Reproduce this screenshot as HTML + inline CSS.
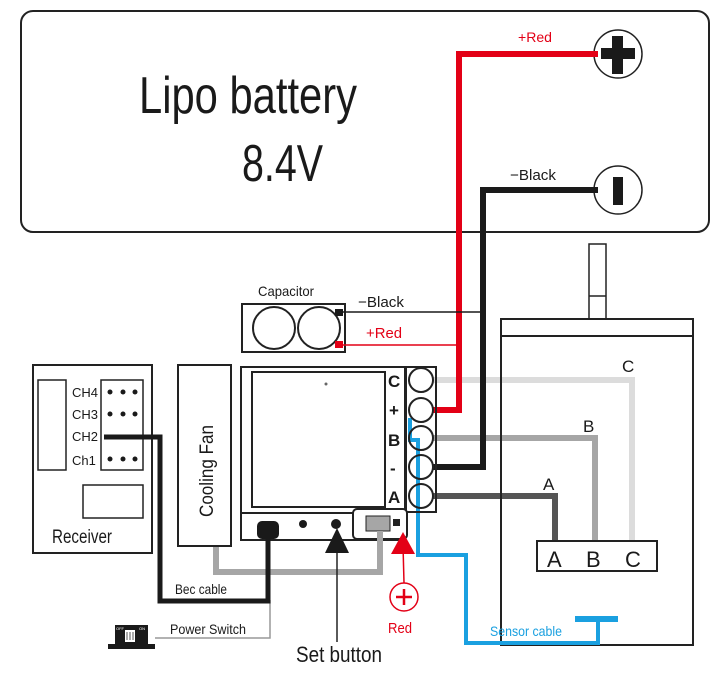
<!DOCTYPE html>
<html><head><style>body{margin:0;background:#fff}svg{display:block}text{font-family:"Liberation Sans",sans-serif}</style></head>
<body>
<svg width="725" height="673" viewBox="0 0 725 673" xmlns="http://www.w3.org/2000/svg">
<!-- battery -->
<rect x="21" y="11" width="688" height="221" rx="12" fill="none" stroke="#222" stroke-width="2"/>
<text x="139" y="113" font-size="52" textLength="218" lengthAdjust="spacingAndGlyphs" fill="#1a1a1a">Lipo battery</text>
<text x="242" y="181" font-size="52" textLength="81" lengthAdjust="spacingAndGlyphs" fill="#1a1a1a">8.4V</text>
<circle cx="618" cy="54" r="24" fill="#fff" stroke="#222" stroke-width="1.5"/>
<rect x="601" y="48" width="34" height="11" fill="#1a1a1a"/><rect x="612" y="36" width="11" height="38" fill="#1a1a1a"/>
<circle cx="618" cy="190" r="24" fill="#fff" stroke="#222" stroke-width="1.5"/>
<rect x="613" y="177" width="10" height="28" fill="#1a1a1a"/>
<text x="518" y="42" font-size="14" fill="#e30016" textLength="34" lengthAdjust="spacingAndGlyphs">+Red</text>
<text x="510" y="180" font-size="15" fill="#1a1a1a" textLength="46" lengthAdjust="spacingAndGlyphs">−Black</text>
<!-- gray motor wires -->
<polyline points="432,380 632,380 632,541" fill="none" stroke="#dcdcdc" stroke-width="6"/>
<polyline points="432,438 595,438 595,541" fill="none" stroke="#a6a6a6" stroke-width="6"/>
<polyline points="432,496 555,496 555,541" fill="none" stroke="#555" stroke-width="6"/>
<!-- motor -->
<rect x="589" y="244" width="17" height="75" fill="#fff" stroke="#222" stroke-width="1.5"/>
<line x1="589" y1="296" x2="606" y2="296" stroke="#222" stroke-width="1.5"/>
<rect x="501" y="319" width="192" height="326" fill="none" stroke="#222" stroke-width="2"/>
<line x1="501" y1="336" x2="693" y2="336" stroke="#222" stroke-width="2"/>
<rect x="537" y="541" width="120" height="30" fill="#fff" stroke="#222" stroke-width="2"/>
<text x="547" y="567" font-size="22" fill="#1a1a1a">A</text>
<text x="586" y="567" font-size="22" fill="#1a1a1a">B</text>
<text x="625" y="567" font-size="22" fill="#1a1a1a">C</text>
<text x="622" y="372" font-size="17" fill="#1a1a1a">C</text>
<text x="583" y="432" font-size="17" fill="#1a1a1a">B</text>
<text x="543" y="490" font-size="17" fill="#1a1a1a">A</text>
<!-- battery wires -->
<polyline points="598,54 459,54 459,410 432,410" fill="none" stroke="#e30016" stroke-width="6"/>
<polyline points="598,190 483,190 483,467 432,467" fill="none" stroke="#1a1a1a" stroke-width="6"/>
<!-- capacitor -->
<rect x="242" y="304" width="103" height="48" fill="#fff" stroke="#222" stroke-width="2"/>
<circle cx="274" cy="328" r="21" fill="none" stroke="#222" stroke-width="2"/>
<circle cx="319" cy="328" r="21" fill="none" stroke="#222" stroke-width="2"/>
<rect x="335" y="309" width="8" height="7" fill="#1a1a1a"/>
<rect x="335" y="341" width="8" height="7" fill="#e30016"/>
<line x1="343" y1="312" x2="483" y2="312" stroke="#1a1a1a" stroke-width="1.5"/>
<line x1="343" y1="345" x2="459" y2="345" stroke="#e30016" stroke-width="1.5"/>
<text x="258" y="296" font-size="14" fill="#1a1a1a" textLength="56" lengthAdjust="spacingAndGlyphs">Capacitor</text>
<text x="358" y="307" font-size="15" fill="#1a1a1a" textLength="46" lengthAdjust="spacingAndGlyphs">−Black</text>
<text x="366" y="338" font-size="15" fill="#e30016" textLength="36" lengthAdjust="spacingAndGlyphs">+Red</text>
<!-- blue sensor -->
<polyline points="410,418 410,440 418,440 418,555 466,555 466,643 598,643 598,620" fill="none" stroke="#1aa0e0" stroke-width="4"/>
<rect x="575" y="616" width="43" height="6" fill="#1aa0e0"/>
<text x="490" y="636" font-size="14" fill="#1aa0e0" textLength="72" lengthAdjust="spacingAndGlyphs">Sensor cable</text>
<!-- controller -->
<rect x="241" y="367" width="164" height="173" fill="none" stroke="#222" stroke-width="2"/>
<rect x="252" y="372" width="133" height="135" fill="none" stroke="#222" stroke-width="2"/>
<line x1="241" y1="513" x2="405" y2="513" stroke="#222" stroke-width="2"/>
<circle cx="326" cy="384" r="1.5" fill="#666"/>
<g font-size="17" font-weight="bold" fill="#1a1a1a">
<text x="388" y="387">C</text><text x="389" y="416">+</text><text x="388" y="446">B</text><text x="390" y="474">-</text><text x="388" y="503">A</text></g>
<rect x="406" y="367" width="30" height="145" fill="none" stroke="#222" stroke-width="2"/>
<g fill="none" stroke="#222" stroke-width="2">
<circle cx="421" cy="380" r="12"/><circle cx="421" cy="410" r="12"/><circle cx="421" cy="438" r="12"/><circle cx="421" cy="467" r="12"/><circle cx="421" cy="496" r="12"/></g>
<rect x="353" y="509" width="54" height="30" rx="4" fill="#fff" stroke="#222" stroke-width="2"/>
<rect x="366" y="516" width="24" height="15" fill="#a6a6a6" stroke="#222" stroke-width="1"/>
<rect x="393" y="519" width="7" height="7" fill="#222"/>
<circle cx="303" cy="524" r="4" fill="#1a1a1a"/><circle cx="336" cy="524" r="5" fill="#1a1a1a"/>
<rect x="257" y="521" width="22" height="18" rx="5" fill="#1a1a1a"/>
<!-- fan & gray cable -->
<polyline points="216,546 216,572 380,572 380,531" fill="none" stroke="#a6a6a6" stroke-width="6"/>
<rect x="178" y="365" width="53" height="181" fill="#fff" stroke="#222" stroke-width="2"/>
<text transform="translate(213,517) rotate(-90)" font-size="19" fill="#1a1a1a" textLength="92" lengthAdjust="spacingAndGlyphs">Cooling Fan</text>
<!-- set button -->
<line x1="337" y1="545" x2="337" y2="642" stroke="#222" stroke-width="1.5"/>
<polygon points="337,528 325,553 349,553" fill="#1a1a1a"/>
<text x="296" y="662" font-size="22" fill="#1a1a1a" textLength="86" lengthAdjust="spacingAndGlyphs">Set button</text>
<!-- red power -->
<line x1="403" y1="545" x2="404" y2="583" stroke="#e30016" stroke-width="1.5"/>
<polygon points="403,532 391,554 415,554" fill="#e30016"/>
<circle cx="404" cy="597" r="14" fill="none" stroke="#e30016" stroke-width="1.5"/>
<path d="M396 597h16M404 589v16" stroke="#e30016" stroke-width="2.5"/>
<text x="388" y="633" font-size="15" fill="#e30016" textLength="24" lengthAdjust="spacingAndGlyphs">Red</text>
<!-- receiver -->
<rect x="33" y="365" width="119" height="188" fill="none" stroke="#222" stroke-width="2"/>
<rect x="38" y="380" width="28" height="90" fill="none" stroke="#222" stroke-width="1.5"/>
<rect x="101" y="380" width="42" height="90" fill="none" stroke="#222" stroke-width="1.5"/>
<rect x="83" y="485" width="60" height="33" fill="none" stroke="#222" stroke-width="1.5"/>
<g font-size="13" fill="#1a1a1a"><text x="72" y="397">CH4</text><text x="72" y="419">CH3</text><text x="72" y="441">CH2</text><text x="72" y="465">Ch1</text></g>
<g fill="#1a1a1a"><circle cx="110" cy="392" r="2.5"/><circle cx="123" cy="392" r="2.5"/><circle cx="135" cy="392" r="2.5"/>
<circle cx="110" cy="414" r="2.5"/><circle cx="123" cy="414" r="2.5"/><circle cx="135" cy="414" r="2.5"/>
<circle cx="110" cy="459" r="2.5"/><circle cx="123" cy="459" r="2.5"/><circle cx="135" cy="459" r="2.5"/></g>
<text x="52" y="543" font-size="19" fill="#1a1a1a" textLength="60" lengthAdjust="spacingAndGlyphs">Receiver</text>
<!-- bec cable -->
<polyline points="270,600 270,638 155,638" fill="none" stroke="#999" stroke-width="1.5"/>
<polyline points="104,437 160,437 160,601 268,601 268,530" fill="none" stroke="#1a1a1a" stroke-width="5"/>
<text x="175" y="594" font-size="14" fill="#1a1a1a" textLength="52" lengthAdjust="spacingAndGlyphs">Bec cable</text>
<text x="170" y="634" font-size="14" fill="#1a1a1a" textLength="76" lengthAdjust="spacingAndGlyphs">Power Switch</text>
<!-- switch -->
<rect x="108" y="644" width="47" height="5" fill="#1a1a1a"/>
<rect x="115" y="625" width="33" height="20" fill="#1a1a1a"/>
<rect x="125" y="630" width="10" height="12" fill="#fff"/>
<path d="M127 632v8M130 632v8M133 632v8" stroke="#555" stroke-width="1"/>
<text x="116" y="630" font-size="4" fill="#fff">OFF</text><text x="139" y="630" font-size="4" fill="#fff">ON</text>
</svg>
</body></html>
